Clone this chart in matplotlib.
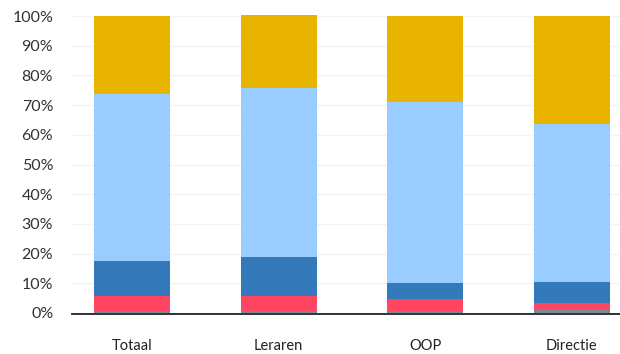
import numpy as np
import matplotlib.pyplot as plt

plt.rcParams['font.family'] = ['Lato', 'DejaVu Sans']

categories = ["Totaal", "Leraren", "OOP", "Directie"]
# stacked shares in percent, bottom to top
grey = [0.6, 0.6, 0.6, 1.2]
red = [5.1, 5.1, 4.1, 2.2]
dark_blue = [11.8, 13.2, 5.4, 7.0]
light_blue = [56.2, 56.9, 60.9, 53.2]
yellow = [26.3, 24.4, 29.0, 36.4]

series = [grey, red, dark_blue, light_blue, yellow]
colors = ["#7a8794", "#ff4560", "#3479b9", "#99ccff", "#e8b400"]

W, H = 620, 354
fig = plt.figure(figsize=(W / 100, H / 100), dpi=100)
ax = fig.add_axes([72 / W, (H - 313) / H, 548 / W, 297 / H])

x = np.arange(len(categories))
bottom = np.zeros(len(categories))
for vals, c in zip(series, colors):
    ax.bar(x, vals, width=0.52, bottom=bottom, color=c, linewidth=0,
           clip_on=False, zorder=2)
    bottom += np.array(vals)

ax.set_xlim(-0.41, 3.33)
ax.set_ylim(0, 100)
ax.set_yticks(np.arange(0, 101, 10))
ax.set_yticklabels([f"{v}%" for v in range(0, 101, 10)])
ax.set_xticks(x)
ax.set_xticklabels(categories)
ax.yaxis.grid(True, color="#f3f3f3", linewidth=1, zorder=0)
ax.set_axisbelow(True)

for s in ["top", "right", "left"]:
    ax.spines[s].set_visible(False)
ax.spines["bottom"].set_color("#222222")
ax.spines["bottom"].set_linewidth(1.3)
ax.spines["bottom"].set_position(("outward", 1))
ax.spines["bottom"].set_zorder(3)

ax.tick_params(axis="y", length=0, pad=13.5, labelsize=11.5, labelcolor="#333333")
ax.tick_params(axis="x", length=0, pad=18, labelsize=10.5, labelcolor="#222222")

fig.savefig("out.png", dpi=100)
